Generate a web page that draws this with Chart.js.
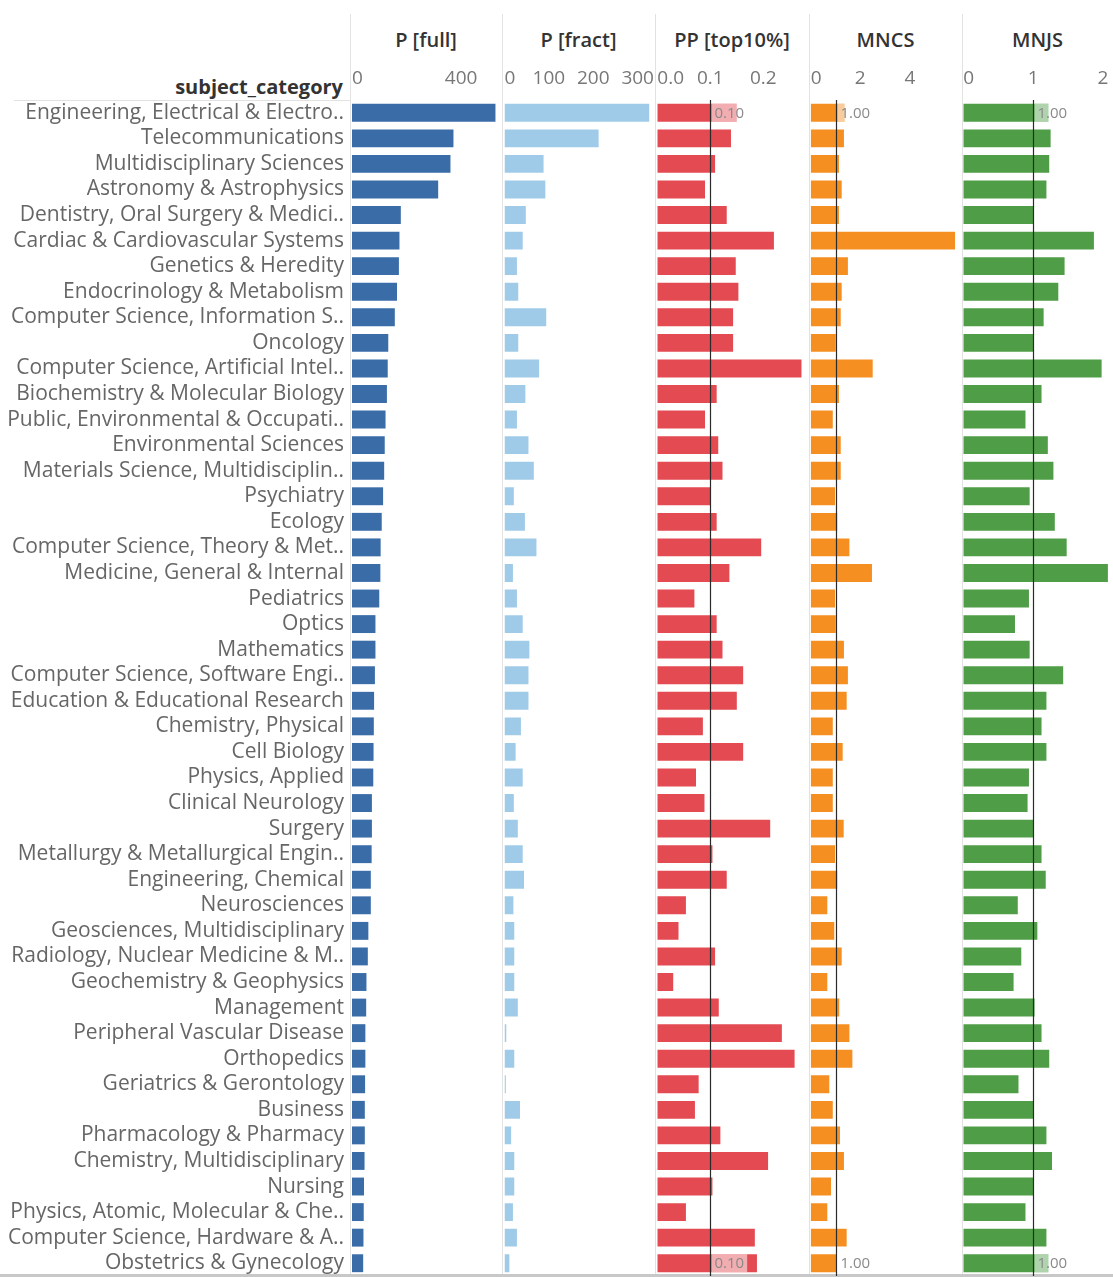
<!DOCTYPE html>
<html><head><meta charset="utf-8">
<script src="https://cdn.jsdelivr.net/npm/chart.js@4.4.1/dist/chart.umd.min.js"></script>
<style>
html,body{margin:0;padding:0;background:#fff;}
body{width:1113px;height:1277px;position:relative;overflow:hidden;font-family:"Open Sans",sans-serif;}
canvas{position:absolute;left:0;top:0;}
.hdr{position:absolute;top:26px;height:28px;line-height:28px;font-size:20px;color:#333;text-align:center;font-weight:600;}
.vline{position:absolute;width:1px;background:#e2e2e2;top:14px;height:1261px;}
.hline{position:absolute;height:1px;background:#e2e2e2;}
#ycat{position:absolute;right:770px;top:74px;font-size:20px;font-weight:700;color:#333;line-height:26px;}
#bottom{position:absolute;left:0;top:1274px;width:1113px;height:3px;background:#c8c8c8;}
</style></head><body>
<div class="vline" style="left:350px"></div>
<div class="vline" style="left:502px"></div>
<div class="vline" style="left:655px"></div>
<div class="vline" style="left:809px"></div>
<div class="vline" style="left:962px"></div>
<div class="hline" style="left:14px;width:336px;top:100px"></div>
<div class="hdr" style="left:350px;width:152px">P [full]</div>
<div class="hdr" style="left:502px;width:153px">P [fract]</div>
<div class="hdr" style="left:655px;width:154px">PP [top10%]</div>
<div class="hdr" style="left:809px;width:153px">MNCS</div>
<div class="hdr" style="left:962px;width:151px">MNJS</div>
<div id="ycat">subject_category</div>
<div id="bottom"></div>
<canvas id="c1" width="1113" height="1277"></canvas>
<canvas id="c2" width="1113" height="1277"></canvas>
<canvas id="c3" width="1113" height="1277"></canvas>
<canvas id="c4" width="1113" height="1277"></canvas>
<canvas id="c5" width="1113" height="1277"></canvas>
<script>
const categories = [
 "Engineering, Electrical & Electro..","Telecommunications","Multidisciplinary Sciences","Astronomy & Astrophysics",
 "Dentistry, Oral Surgery & Medici..","Cardiac & Cardiovascular Systems","Genetics & Heredity","Endocrinology & Metabolism",
 "Computer Science, Information S..","Oncology","Computer Science, Artificial Intel..","Biochemistry & Molecular Biology",
 "Public, Environmental & Occupati..","Environmental Sciences","Materials Science, Multidisciplin..","Psychiatry",
 "Ecology","Computer Science, Theory & Met..","Medicine, General & Internal","Pediatrics","Optics","Mathematics",
 "Computer Science, Software Engi..","Education & Educational Research","Chemistry, Physical","Cell Biology",
 "Physics, Applied","Clinical Neurology","Surgery","Metallurgy & Metallurgical Engin..","Engineering, Chemical",
 "Neurosciences","Geosciences, Multidisciplinary","Radiology, Nuclear Medicine & M..","Geochemistry & Geophysics",
 "Management","Peripheral Vascular Disease","Orthopedics","Geriatrics & Gerontology","Business",
 "Pharmacology & Pharmacy","Chemistry, Multidisciplinary","Nursing","Physics, Atomic, Molecular & Che..",
 "Computer Science, Hardware & A..","Obstetrics & Gynecology"
];
const pFull = [526,372,361,316,179,174,172,165,157,133,131,128,123,120,118,114,109,105,104,100,86,86,84,81,80,79,78,73,73,72,69,69,60,58,53,52,49,49,48,47,47,46,44,43,42,41];
const pFract = [326,212,88,92,48,41,28,31,94,31,78,47,28,54,66,21,46,72,19,28,41,56,54,54,37,25,41,21,30,41,44,20,22,22,22,30,4,22,3,35,15,22,22,19,28,11];
const ppTop10 = [0.150,0.139,0.109,0.090,0.131,0.220,0.148,0.153,0.143,0.143,0.272,0.112,0.090,0.115,0.123,0.100,0.112,0.196,0.136,0.070,0.112,0.123,0.162,0.150,0.086,0.162,0.073,0.089,0.213,0.104,0.131,0.054,0.040,0.109,0.030,0.116,0.235,0.259,0.078,0.071,0.119,0.209,0.104,0.054,0.184,0.188];
const mncs = [1.37,1.34,1.14,1.25,1.14,5.82,1.50,1.25,1.21,1.01,2.50,1.14,0.89,1.21,1.21,0.98,1.07,1.56,2.47,0.98,1.01,1.34,1.50,1.45,0.89,1.29,0.89,0.89,1.33,0.98,1.07,0.67,0.95,1.25,0.67,1.15,1.56,1.68,0.75,0.89,1.18,1.34,0.82,0.67,1.45,1.02];
const mnjs = [1.22,1.25,1.23,1.19,1.00,1.87,1.45,1.36,1.15,1.00,1.98,1.12,0.89,1.21,1.29,0.95,1.31,1.48,2.07,0.94,0.74,0.95,1.43,1.19,1.12,1.19,0.94,0.92,1.01,1.12,1.18,0.78,1.06,0.83,0.72,1.02,1.12,1.23,0.79,1.00,1.19,1.27,1.00,0.89,1.19,1.22];
const tickFull = [0,400];
const tickFract = [0,100,200,300];
const tickPP = [0,0.1,0.2];
const tickMNCS = [0,2,4];
const tickMNJS = [0,1,2];
const refPP = 0.10, refMNCS = 1.00, refMNJS = 1.00;

const W = 1113;
const FONT = '"Open Sans", sans-serif';

const refPlugin = {
  id: 'refline',
  afterDatasetsDraw(chart) {
    const o = chart.options.plugins.refline;
    if (!o || o.value == null) return;
    const ctx = chart.ctx, xs = chart.scales.x, ys = chart.scales.y, a = chart.chartArea;
    const x = Math.round(xs.getPixelForValue(o.value)) + 0.5;
    ctx.save();
    ctx.strokeStyle = '#2a2a2a';
    ctx.lineWidth = 1.2;
    ctx.beginPath(); ctx.moveTo(x, a.top); ctx.lineTo(x, a.bottom); ctx.stroke();
    ctx.font = '15px ' + FONT;
    ctx.textBaseline = 'middle';
    const tw = ctx.measureText(o.label).width;
    [0, categories.length - 1].forEach(i => {
      const y = ys.getPixelForValue(i);
      ctx.fillStyle = 'rgba(255,255,255,0.55)';
      ctx.fillRect(x + 1, y - 9, tw + 6, 18);
      ctx.fillStyle = '#8a8a8a';
      ctx.fillText(o.label, x + 4, y + 1);
    });
    ctx.restore();
  }
};

function makeChart(id, data, color, left, right, max, ticks, fmt, showY, ref) {
  return new Chart(document.getElementById(id), {
    type: 'bar',
    data: { labels: categories, datasets: [{ data, backgroundColor: color, barPercentage: 0.7, categoryPercentage: 1.0 }] },
    plugins: [refPlugin],
    options: {
      indexAxis: 'y', responsive: false, animation: false,
      layout: { padding: { left: showY ? 0 : left, right: W - right, top: 62, bottom: 1 } },
      plugins: { legend: { display: false }, tooltip: { enabled: false }, refline: ref || {} },
      scales: {
        x: {
          position: 'top', min: 0, max, bounds: 'data',
          grid: { display: false, drawTicks: false }, border: { display: false },
          afterBuildTicks: s => { s.ticks = ticks.map(v => ({ value: v })); },
          afterFit: s => { s.height = 38; s.paddingLeft = 0; s.paddingRight = 0; },
          ticks: { padding: 10, color: '#777', font: { family: FONT, size: 19 }, autoSkip: false, maxRotation: 0,
                   callback: (v, i) => fmt(v, i) }
        },
        y: {
          display: showY,
          grid: { display: false, drawTicks: false }, border: { display: false },
          afterFit: s => { if (showY) { s.width = left; } s.paddingTop = 0; s.paddingBottom = 0; },
          ticks: { padding: 8, color: '#666', font: { family: FONT, size: 21 }, autoSkip: false }
        }
      }
    }
  });
}
// first tick label is pushed inside its panel (left edge at the zero line), as in the original
const lead = s => s.replace(/[0-9]/g, '\u2007').replace(/\./g, '\u2008');
const firstIn = (s, i) => (i === 0 ? lead(s) + s : s);
makeChart('c1', pFull, '#3a6ca8', 352, 502, 550, tickFull, (v, i) => firstIn(String(v), i), true, null);
makeChart('c2', pFract, '#a0cbe8', 504.5, 655, 339, tickFract, (v, i) => firstIn(String(v), i), false, null);
makeChart('c3', ppTop10, '#e34a52', 657.3, 809, 0.2862, tickPP, (v, i) => firstIn(v.toFixed(1), i), false, { value: refPP, label: '0.10' });
makeChart('c4', mncs, '#f58f22', 810.7, 962, 6.1, tickMNCS, (v, i) => firstIn(String(v), i), false, { value: refMNCS, label: '1.00' });
makeChart('c5', mnjs, '#4f9e47', 963.3, 1113, 2.143, tickMNJS, (v, i) => firstIn(String(v), i), false, { value: refMNJS, label: '1.00' });
</script>
</body></html>
